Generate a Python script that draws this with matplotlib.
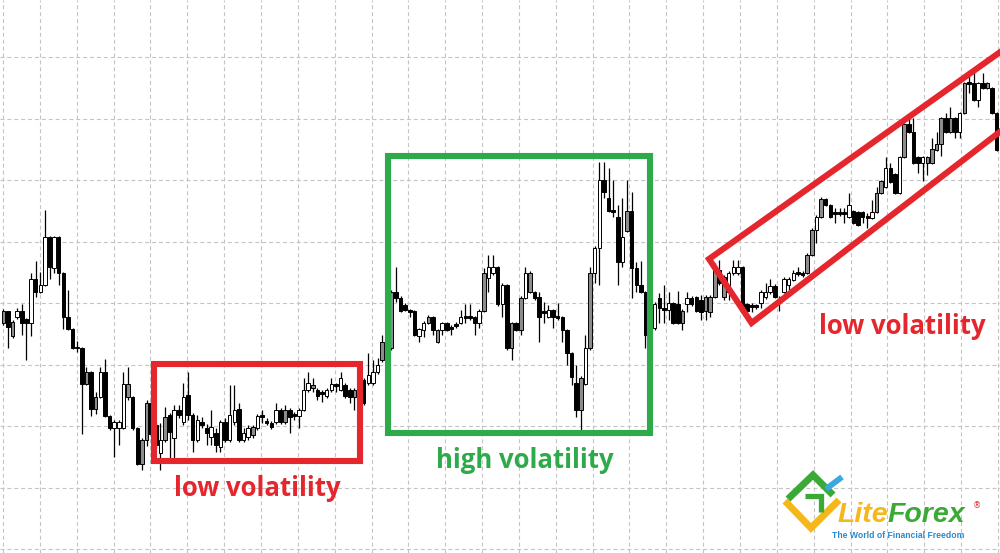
import numpy as np
import matplotlib
matplotlib.use("Agg")
import matplotlib.pyplot as plt
from matplotlib.patches import Rectangle

# ---------------- candle data (price in chart points) ----------------
opens = [230,242,217,236,242,234,230,274,261,268,
         316,285,316,280,236,224,206,205,169,181,
         144,156,181,137,125,125,125,156,156,125,
         89,113,150,128,100,113,138,115,143,131,
         158,138,113,131,125,116,120,106,131,113,
         131,144,113,116,118,125,138,132,130,131,
         143,131,143,139,137,143,163,165,163,161,
         157,163,169,163,168,163,156,157,173,170,
         170,181,193,211,205,261,255,248,243,242,
         217,223,230,236,211,223,230,226,229,230,
         237,237,236,230,242,275,280,286,249,268,
         205,230,223,255,261,261,256,242,236,243,
         237,236,223,200,170,143,169,205,280,305,
         373,355,343,336,291,322,342,285,268,261,
         218,225,255,245,243,250,249,230,249,255,
         256,253,242,241,256,283,256,261,280,280,
         286,249,248,248,250,256,261,267,254,261,
         268,273,281,280,280,298,323,336,354,348,
         341,341,341,336,342,341,341,337,335,341,
         360,366,385,379,360,396,429,421,396,390,
         390,390,403,409,435,421,435,421,440,471,
         470,453,470,465,465,440]
highs = [244,242,233,245,249,235,280,292,281,343,
         317,317,317,281,263,225,212,206,186,182,
         161,186,194,138,133,133,181,186,157,126,
         115,153,151,130,130,146,140,148,148,170,
         181,140,138,136,129,143,125,133,135,168,
         168,150,125,128,128,139,143,135,132,150,
         145,148,145,141,145,175,181,175,165,163,
         165,175,170,181,170,165,165,161,175,200,
         193,195,218,213,263,286,257,250,244,243,
         225,232,238,237,224,231,231,228,231,243,
         249,249,237,244,285,298,298,287,270,269,
         231,231,257,286,282,262,261,251,248,244,
         250,237,224,201,188,177,218,286,307,391,
         391,385,373,348,355,373,361,291,292,262,
         232,251,260,268,261,251,262,244,261,257,
         257,258,258,258,290,293,278,282,293,293,
         287,250,250,249,263,270,274,269,257,276,
         276,283,286,282,300,325,338,356,355,349,
         345,345,345,360,343,342,342,340,353,366,
         373,396,390,380,397,430,435,435,397,397,
         397,415,421,436,440,446,436,441,471,480,
         481,471,480,471,466,441]
lows = [228,205,215,234,218,193,217,256,260,267,
        274,280,268,224,223,204,201,119,168,137,
        139,155,136,123,96,108,124,153,123,88,
        83,107,117,105,83,111,95,95,135,128,
        133,101,111,125,108,108,101,101,111,111,
        128,111,111,113,115,123,130,128,124,129,
        129,129,120,133,125,142,161,161,153,151,
        155,161,161,162,155,150,143,147,148,168,
        168,179,191,207,203,251,241,242,236,217,
        211,216,229,218,210,218,222,218,225,229,
        230,233,218,225,241,261,278,247,236,203,
        193,222,218,254,260,253,211,230,235,225,
        233,211,188,168,136,121,168,203,270,268,
        355,341,336,268,286,321,255,261,260,205,
        217,223,230,230,233,229,229,223,241,247,
        241,233,233,236,255,268,253,253,278,278,
        245,238,241,244,245,254,259,255,242,260,
        263,272,277,276,279,297,310,335,347,335,
        330,337,330,335,329,327,330,325,334,340,
        359,365,370,359,359,395,420,389,380,372,
        378,389,402,397,420,420,415,415,439,460,
        452,446,464,464,439,402]
closes = [242,226,231,242,230,230,274,261,268,316,
          286,316,280,236,224,205,205,169,181,144,
          156,181,137,125,131,131,169,169,125,89,
          113,150,119,108,113,136,121,143,138,156,
          138,113,133,128,120,126,108,131,113,138,
          143,113,120,125,126,137,136,130,126,143,
          131,143,136,137,143,163,170,168,157,159,
          163,169,167,175,157,156,163,150,150,178,
          181,188,211,209,261,255,242,243,241,218,
          224,230,236,223,223,230,223,224,227,236,
          235,235,230,242,280,286,286,249,268,205,
          230,223,255,280,280,255,236,240,243,236,
          235,223,200,176,143,175,205,280,305,373,
          361,342,341,291,316,342,285,268,261,218,
          230,249,245,243,250,230,230,242,255,249,
          242,241,256,256,283,270,276,280,286,286,
          246,242,246,246,261,261,267,256,252,274,
          274,280,279,278,298,323,336,354,348,336,
          339,339,339,348,330,328,336,335,341,360,
          372,385,371,360,396,429,421,390,390,396,
          396,404,409,435,421,435,421,440,470,469,
          453,470,465,470,440,403]
# body style per candle: w = white, k = black, g = grey
kinds = ("gkgwkkwkww" "kwkkkkkkgk" "gwkkwwwgkk" "ggkkwgkwkw" "kkwkkwkwkw"
         "wkwwgwkkkw" "kgkkwwwgkk" "wwkwkkgkkw" "wwgkgkkkkk" "wwgkgwkkkw"
         "kkkwgwwkwk" "gkgwgkkkwk" "kkkkkgwgww" "kkkkwgkkkk" "gwkkwkkgwk"
         "kkgggkgwww" "kkkkwwwkkw" "wwkkggwgkk" "kkkwkkkkwg" "gwkkwgkkkw"
         "ggggkgkwgk" "kwkgkk")

# ---------------- annotations ----------------
labels = ["low volatility", "high volatility", "low volatility"]
RED = "#e5262d"
GREEN = "#2eaa4b"

n = min(len(opens), len(highs), len(lows), len(closes), len(kinds))
o = np.array(opens[:n], float)
h = np.array(highs[:n], float)
l = np.array(lows[:n], float)
c = np.array(closes[:n], float)
idx = np.arange(1, n + 1)
cmap = {"w": "#ffffff", "k": "#000000", "g": "#8c8c8c"}
colors = [cmap[k] for k in kinds[:n]]

fig = plt.figure(figsize=(10, 5.53), dpi=100)
ax = fig.add_axes([0, 0, 1, 1])
ax.set_xlim(0.2857, 216.73)
ax.set_ylim(0, 553)
ax.set_xticks(np.arange(0.935, 217, 7.976))
ax.set_yticks(np.arange(4, 553, 61.5))
ax.grid(True, color="#c4c4c4", linestyle=(0, (3.6, 2.6)), linewidth=0.8)
ax.tick_params(length=0, labelbottom=False, labelleft=False)
for s in ax.spines.values():
    s.set_visible(False)
ax.set_axisbelow(True)

ax.vlines(idx, l, h, color="black", linewidth=0.9, zorder=2)
bottoms = np.minimum(o, c)
heights = np.maximum(np.abs(c - o), 0.8)
ax.bar(idx, heights, bottom=bottoms, width=0.76, color=colors,
       edgecolor="black", linewidth=0.7, zorder=3)

# boxes / channel
ax.add_patch(Rectangle((33.7, 92.5), 44.5, 97.0, fill=False, edgecolor=RED,
                       linewidth=4.4, zorder=5, joinstyle="miter"))
ax.add_patch(Rectangle((84.27, 120.0), 56.71, 277.5, fill=False, edgecolor=GREEN,
                       linewidth=4.4, zorder=5, joinstyle="miter"))
chx = [218.9, 153.75, 162.95, 218.9]
chy = [508, 294, 230, 429]
ax.plot(chx, chy, color=RED, linewidth=4.4, solid_joinstyle="miter", zorder=5)

tkw = dict(fontsize=18.5, fontweight="bold", family=["Open Sans", "DejaVu Sans"],
           ha="center", va="center", zorder=6)
ax.text(55.9, 64, labels[0], color=RED, **tkw)
ax.text(113.9, 92, labels[1], color=GREEN, **tkw)
ax.text(195.5, 227, labels[2], color=RED, **tkw)

# ---------------- logo ----------------
lg = fig.add_axes([0.78, 0.0, 0.22, 83 / 553])
lg.set_xlim(780, 1000)
lg.set_ylim(553, 470)
lg.axis("off")
lg.patch.set_alpha(0)
lg.plot([785, 811, 839], [501, 528, 500], color="#f6b71a", linewidth=5,
        solid_joinstyle="miter", solid_capstyle="butt")
lg.plot([788, 813, 833], [499, 475, 495], color="#3aa935", linewidth=5,
        solid_joinstyle="miter", solid_capstyle="butt")
lg.plot([805, 821, 821], [496, 496, 512], color="#3aa935", linewidth=3.8,
        solid_joinstyle="miter", solid_capstyle="butt")
lg.plot([826, 842], [489, 477], color="#3ba8e0", linewidth=4.2,
        solid_capstyle="butt")
lfont = dict(family=["Liberation Sans", "DejaVu Sans"], fontweight="bold",
             fontstyle="italic", fontsize=20.5, va="baseline", ha="left")
lg.text(837, 522, "Lite", color="#f6b71a", **lfont)
lg.text(887, 522, "Forex", color="#3aa935", **lfont)
lg.text(973, 506, "®", color=RED, fontsize=6, ha="left", va="center",
        family=["DejaVu Sans"])
lg.text(832, 535, "The World of Financial Freedom", color="#2a88cc",
        fontsize=6.2, fontweight="bold", ha="left", va="center",
        family=["Liberation Sans", "DejaVu Sans"])

fig.savefig("out.png", dpi=100)
